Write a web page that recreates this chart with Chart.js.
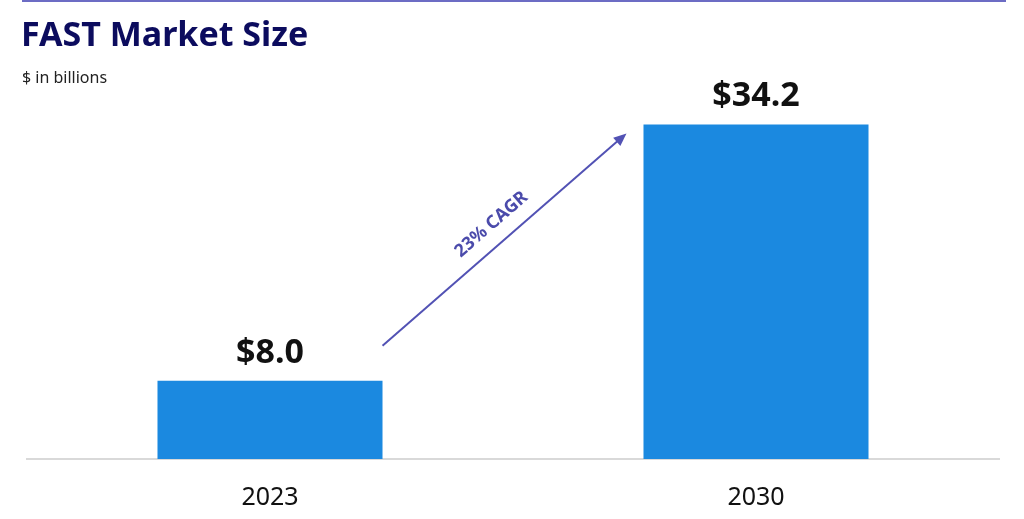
<!DOCTYPE html>
<html>
<head>
<meta charset="utf-8">
<script src="https://cdn.jsdelivr.net/npm/chart.js@4"></script>
<style>
    html, body { margin: 0; padding: 0; background: #ffffff; }
    #wrap { width: 1024px; height: 519px; position: relative; }
</style>
</head>
<body>
<div id="wrap"><canvas id="chart" width="1024" height="519"></canvas></div>
<script>
const years = ['2023', '2030'];
const marketSize = [8.0, 34.2];
const valueLabels = ['$8.0', '$34.2'];
const cagrText = '23% CAGR';
const titleText = 'FAST Market Size';
const subtitleText = '$ in billions';

// Header: top rule, title and unit line.
const headerPlugin = {
    id: 'header',
    afterDraw(chart) {
        const ctx = chart.ctx;
        ctx.save();
        ctx.fillStyle = '#6c6cc4';
        ctx.fillRect(22, 0, 984, 2);

        ctx.fillStyle = '#0c0c5e';
        ctx.font = 'bold 34px "Noto Sans"';
        ctx.textBaseline = 'alphabetic';
        ctx.fillText(titleText, 21, 46);

        ctx.fillStyle = '#222222';
        ctx.font = '16px "Noto Sans"';
        ctx.fillText(subtitleText, 22, 83);
        ctx.restore();
    }
};

// Value labels above each bar.
const valueLabelPlugin = {
    id: 'valueLabels',
    afterDatasetsDraw(chart) {
        const ctx = chart.ctx;
        const meta = chart.getDatasetMeta(0);
        ctx.save();
        ctx.fillStyle = '#111111';
        ctx.font = 'bold 34px "Noto Sans"';
        ctx.textAlign = 'center';
        ctx.textBaseline = 'alphabetic';
        meta.data.forEach((bar, i) => {
            ctx.fillText(valueLabels[i], bar.x, bar.y - 18);
        });
        ctx.restore();
    }
};

// Growth arrow between the two bars.
const cagrArrowPlugin = {
    id: 'cagrArrow',
    afterDatasetsDraw(chart) {
        const ctx = chart.ctx;
        const meta = chart.getDatasetMeta(0);
        const first = meta.data[0];
        const second = meta.data[1];

        const x1 = first.x + first.width / 2;
        const y1 = first.y - 35;
        const x2 = second.x - second.width / 2 - 17;
        const y2 = second.y + 9;
        const angle = Math.atan2(y2 - y1, x2 - x1);
        const headLen = 14;

        ctx.save();
        ctx.strokeStyle = '#5252b4';
        ctx.fillStyle = '#5252b4';
        ctx.lineWidth = 2;
        ctx.beginPath();
        ctx.moveTo(x1, y1);
        ctx.lineTo(x2 - Math.cos(angle) * headLen * 0.7, y2 - Math.sin(angle) * headLen * 0.7);
        ctx.stroke();

        ctx.beginPath();
        ctx.moveTo(x2, y2);
        ctx.lineTo(x2 - headLen * Math.cos(angle - 0.4), y2 - headLen * Math.sin(angle - 0.4));
        ctx.lineTo(x2 - headLen * Math.cos(angle + 0.4), y2 - headLen * Math.sin(angle + 0.4));
        ctx.closePath();
        ctx.fill();

        // text sits above the middle of the line
        const mx = (x1 + x2) / 2;
        const my = (y1 + y2) / 2;
        const nx = Math.sin(angle);
        const ny = -Math.cos(angle);
        ctx.translate(mx + nx * 20, my + ny * 20);
        ctx.rotate(angle);
        ctx.fillStyle = '#4b4bab';
        ctx.font = 'bold 18px "Noto Sans"';
        ctx.textAlign = 'center';
        ctx.textBaseline = 'middle';
        ctx.fillText(cagrText, 0, 0);
        ctx.restore();
    }
};

const ctx = document.getElementById('chart').getContext('2d');
new Chart(ctx, {
    type: 'bar',
    data: {
        labels: years,
        datasets: [{
            data: marketSize,
            backgroundColor: '#1b89e0',
            borderWidth: 0,
            categoryPercentage: 1,
            barPercentage: 0.463
        }]
    },
    options: {
        responsive: false,
        animation: false,
        layout: {
            padding: { top: 97, left: 27, right: 25, bottom: 3 }
        },
        scales: {
            x: {
                grid: { display: false, drawTicks: false },
                border: { display: true, color: '#d9d9d9', width: 2 },
                ticks: {
                    color: '#111111',
                    padding: 24,
                    font: { family: '"Noto Sans"', size: 25 }
                },
                afterFit(scale) {
                    scale.height = 57;
                }
            },
            y: {
                display: false,
                min: 0,
                max: 37
            }
        },
        plugins: {
            legend: { display: false },
            tooltip: { enabled: false },
            title: { display: false }
        }
    },
    plugins: [headerPlugin, valueLabelPlugin, cagrArrowPlugin]
});
</script>
</body>
</html>
